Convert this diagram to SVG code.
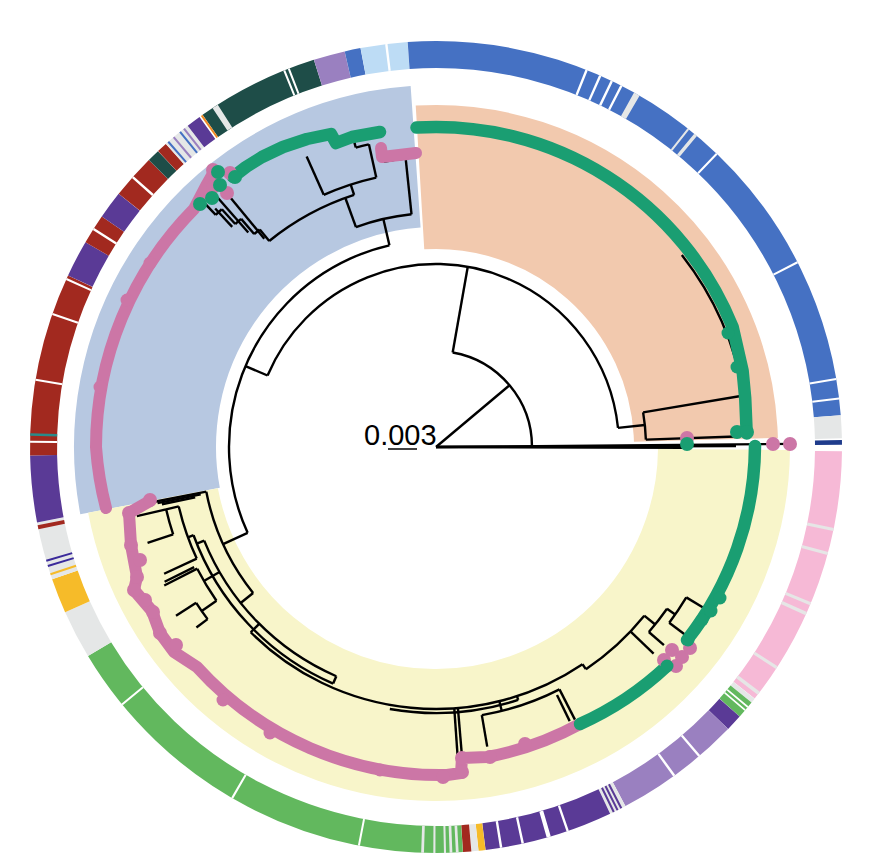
<svg xmlns="http://www.w3.org/2000/svg" width="874" height="860" viewBox="0 0 874 860">
<style>
.rg circle{fill:none;stroke-width:27}
.t line,.t circle{fill:none;stroke:#000;stroke-width:2.4}
.gb{fill:none;stroke:#1a9e72;stroke-width:12.5;stroke-linecap:round;stroke-linejoin:round}
.pb{fill:none;stroke:#cc76a6;stroke-width:12;stroke-linecap:round;stroke-linejoin:round}
.gd{fill:#1a9e72}
.pd{fill:#cc76a6}
</style>
<rect width="874" height="860" fill="#fff"/>
<g id="clades" transform="translate(436 447)">
<circle r="291" fill="none" stroke="#b7c8e1" stroke-width="142" pathLength="360" stroke-dasharray="96.7 400" transform="rotate(169.3)"/>
<circle r="270" fill="none" stroke="#f2c9ae" stroke-width="144" pathLength="360" stroke-dasharray="91.9 400" transform="rotate(266.6)"/>
<circle r="288" fill="none" stroke="#f8f5ca" stroke-width="132" pathLength="360" stroke-dasharray="168.8 400" transform="rotate(0.5)"/>
</g>
<g id="ring" class="rg" transform="translate(436 447)">
<circle r="392.5" pathLength="360" stroke="#f6b9d6" stroke-dasharray="37.7 400" transform="rotate(0.6)"/>
<circle r="392.5" pathLength="360" stroke="#e5e7e7" stroke-dasharray="0.7 400" transform="rotate(38.3)"/>
<circle r="392.5" pathLength="360" stroke="#62b85e" stroke-dasharray="2.6 400" transform="rotate(39)"/>
<circle r="392.5" pathLength="360" stroke="#5a3a96" stroke-dasharray="2.4 400" transform="rotate(41.6)"/>
<circle r="392.5" pathLength="360" stroke="#9a80c0" stroke-dasharray="18.2 400" transform="rotate(44)"/>
<circle r="392.5" pathLength="360" stroke="#e5e7e7" stroke-dasharray="2.4 400" transform="rotate(62.2)"/>
<circle r="392.5" pathLength="360" stroke="#5a3a96" stroke-dasharray="18.4 400" transform="rotate(64.6)"/>
<circle r="392.5" pathLength="360" stroke="#f6bb29" stroke-dasharray="1 400" transform="rotate(83)"/>
<circle r="392.5" pathLength="360" stroke="#e5e7e7" stroke-dasharray="1 400" transform="rotate(84)"/>
<circle r="392.5" pathLength="360" stroke="#a2291f" stroke-dasharray="1.2 400" transform="rotate(85)"/>
<circle r="392.5" pathLength="360" stroke="#62b85e" stroke-dasharray="62.8 400" transform="rotate(86.2)"/>
<circle r="392.5" pathLength="360" stroke="#e5e7e7" stroke-dasharray="7 400" transform="rotate(149)"/>
<circle r="392.5" pathLength="360" stroke="#f6bb29" stroke-dasharray="5 400" transform="rotate(156)"/>
<circle r="392.5" pathLength="360" stroke="#e5e7e7" stroke-dasharray="8.3 400" transform="rotate(161)"/>
<circle r="392.5" pathLength="360" stroke="#5a3a96" stroke-dasharray="9.5 400" transform="rotate(169.3)"/>
<circle r="392.5" pathLength="360" stroke="#a2291f" stroke-dasharray="26.2 400" transform="rotate(178.8)"/>
<circle r="392.5" pathLength="360" stroke="#5a3a96" stroke-dasharray="5.3 400" transform="rotate(205)"/>
<circle r="392.5" pathLength="360" stroke="#a2291f" stroke-dasharray="4.3 400" transform="rotate(210.3)"/>
<circle r="392.5" pathLength="360" stroke="#5a3a96" stroke-dasharray="4 400" transform="rotate(214.6)"/>
<circle r="392.5" pathLength="360" stroke="#a2291f" stroke-dasharray="6.4 400" transform="rotate(218.6)"/>
<circle r="392.5" pathLength="360" stroke="#1e4d48" stroke-dasharray="1.8 400" transform="rotate(225)"/>
<circle r="392.5" pathLength="360" stroke="#a2291f" stroke-dasharray="1.5 400" transform="rotate(226.8)"/>
<circle r="392.5" pathLength="360" stroke="#e5e7e7" stroke-dasharray="4 400" transform="rotate(228.3)"/>
<circle r="392.5" pathLength="360" stroke="#5a3a96" stroke-dasharray="2.1 400" transform="rotate(232.3)"/>
<circle r="392.5" pathLength="360" stroke="#1e4d48" stroke-dasharray="17.6 400" transform="rotate(234.9)"/>
<circle r="392.5" pathLength="360" stroke="#9a80c0" stroke-dasharray="4.5 400" transform="rotate(252.5)"/>
<circle r="392.5" pathLength="360" stroke="#4571c3" stroke-dasharray="2.3 400" transform="rotate(257)"/>
<circle r="392.5" pathLength="360" stroke="#bddcf5" stroke-dasharray="6.7 400" transform="rotate(259.3)"/>
<circle r="392.5" pathLength="360" stroke="#4571c3" stroke-dasharray="89.5 400" transform="rotate(266)"/>
<circle r="392.5" pathLength="360" stroke="#e5e7e7" stroke-dasharray="3.3 400" transform="rotate(355.5)"/>
<circle r="392.5" pathLength="360" stroke="#1f3c8c" stroke-dasharray="0.7 400" transform="rotate(359)"/>
<circle r="392.5" pathLength="360" stroke="#e6e6e6" stroke-dasharray="0.45 3.05 0.45 7.05 0.45 1.05 0.5 8.2 0.45 3.95 0.5 400" transform="rotate(11.5)"/>
<circle r="392.5" pathLength="360" stroke="#fff" stroke-dasharray="0.25 0.35 0.25 400" transform="rotate(39.7)"/>
<circle r="392.5" pathLength="360" stroke="#fff" stroke-dasharray="0.35 4.15 0.35 400" transform="rotate(49.4)"/>
<circle r="392.5" pathLength="360" stroke="#5a3a96" stroke-dasharray="0.3 0.3 0.3 0.3 0.3 400" transform="rotate(62.7)"/>
<circle r="392.5" pathLength="360" stroke="#fff" stroke-dasharray="0.35 2.35 0.6 3.3 0.35 2.75 0.35 400" transform="rotate(70.9)"/>
<circle r="392.5" pathLength="360" stroke="#e5e7e7" stroke-dasharray="0.4 0.5 0.4 0.5 0.3 1.2 0.3 1.3 0.4 400" transform="rotate(86.8)"/>
<circle r="392.5" pathLength="360" stroke="#fff" stroke-dasharray="0.3 18.9 0.3 20.2 0.3 400" transform="rotate(100.8)"/>
<circle r="392.5" pathLength="360" stroke="#f6bb29" stroke-dasharray="0.3 400" transform="rotate(161.6)"/>
<circle r="392.5" pathLength="360" stroke="#3b2a9a" stroke-dasharray="0.3 0.5 0.3 400" transform="rotate(162.8)"/>
<circle r="392.5" pathLength="360" stroke="#a2291f" stroke-dasharray="0.6 400" transform="rotate(168.3)"/>
<circle r="392.5" pathLength="360" stroke="#fff" stroke-dasharray="0.3 8.5 0.3 9.3 0.3 5 0.3 7.7 0.35 8.85 0.35 400" transform="rotate(180.6)"/>
<circle r="392.5" pathLength="360" stroke="#2a8a8a" stroke-dasharray="0.35 400" transform="rotate(181.6)"/>
<circle r="392.5" pathLength="360" stroke="#4571c3" stroke-dasharray="0.3 1.9 0.3 400" transform="rotate(228.6)"/>
<circle r="392.5" pathLength="360" stroke="#9a80c0" stroke-dasharray="0.3 1.6 0.3 400" transform="rotate(229.6)"/>
<circle r="392.5" pathLength="360" stroke="#f08a24" stroke-dasharray="0.3 400" transform="rotate(234.6)"/>
<circle r="392.5" pathLength="360" stroke="#e5e7e7" stroke-dasharray="0.9 400" transform="rotate(236.6)"/>
<circle r="392.5" pathLength="360" stroke="#fff" stroke-dasharray="0.3 0.4 0.3 400" transform="rotate(247.9)"/>
<circle r="392.5" pathLength="360" stroke="#fff" stroke-dasharray="0.35 400" transform="rotate(262.8)"/>
<circle r="392.5" pathLength="360" stroke="#fff" stroke-dasharray="0.35 1.75 0.35 1.45 0.35 1.15 0.35 400" transform="rotate(291.6)"/>
<circle r="392.5" pathLength="360" stroke="#e5e7e7" stroke-dasharray="0.9 8.2 0.3 0.9 0.5 400" transform="rotate(299.2)"/>
<circle r="392.5" pathLength="360" stroke="#fff" stroke-dasharray="0.3 18.9 0.3 17.1 0.3 2.5 0.3 400" transform="rotate(313.6)"/>
</g>
<g id="connectors" class="t" transform="translate(436 447)">
<line x2="358" transform="rotate(-0.5)"/>
<line x2="300" transform="rotate(-0.2)"/>
<line x2="250" transform="rotate(0.2)"/>
<line x2="96" transform="rotate(-40)"/>
<line x1="96" x2="183" transform="rotate(280)"/>
<line x1="183" x2="210" transform="rotate(354)"/>
<line x1="210" x2="312" transform="rotate(350.5)"/>
<line x1="210" x2="300" transform="rotate(358)"/>
<line x1="183" x2="207" transform="rotate(203)"/>
<circle r="96" pathLength="360" stroke-dasharray="80 400" transform="rotate(280)"/>
<circle r="183" pathLength="360" stroke-dasharray="151 400" transform="rotate(203)"/>
<circle r="210" pathLength="360" stroke-dasharray="7.5 400" transform="rotate(350.5)"/>
<circle r="312" pathLength="360" stroke-dasharray="28.5 400" transform="rotate(322)"/>
<circle r="207" pathLength="360" stroke-dasharray="101.5 400" transform="rotate(155.5)"/>
<line x1="207" x2="234" transform="rotate(257)"/>
<line x1="234" x2="296" transform="rotate(264)"/>
<line x1="290" x2="297" transform="rotate(259.6)"/>
<line x1="234" x2="265" transform="rotate(250)"/>
<line x1="265" x2="276" transform="rotate(252)"/>
<line x1="276" x2="318" transform="rotate(246)"/>
<line x1="276" x2="310" transform="rotate(257.5)"/>
<line x1="310" x2="318" transform="rotate(255)"/>
<line x1="265" x2="280" transform="rotate(231)"/>
<line x1="280" x2="300" transform="rotate(229.5)"/>
<line x1="300" x2="320" transform="rotate(228)"/>
<line x1="320" x2="338" transform="rotate(226.5)"/>
<line x1="270" x2="335" transform="rotate(230.5)"/>
<line x1="285" x2="340" transform="rotate(228.8)"/>
<line x1="300" x2="325" transform="rotate(227.2)"/>
<circle r="234" pathLength="360" stroke-dasharray="14 400" transform="rotate(250)"/>
<circle r="290" pathLength="360" stroke-dasharray="4.4 400" transform="rotate(259.6)"/>
<circle r="265" pathLength="360" stroke-dasharray="21 400" transform="rotate(231)"/>
<circle r="276" pathLength="360" stroke-dasharray="11.5 400" transform="rotate(246)"/>
<circle r="310" pathLength="360" stroke-dasharray="2.5 400" transform="rotate(255)"/>
<circle r="280" pathLength="360" stroke-dasharray="1.5 400" transform="rotate(229.5)"/>
<circle r="300" pathLength="360" stroke-dasharray="1.5 400" transform="rotate(228)"/>
<circle r="320" pathLength="360" stroke-dasharray="1.5 400" transform="rotate(226.5)"/>
<line x1="207" x2="234" transform="rotate(155.5)"/>
<line x1="234" x2="288" transform="rotate(169)"/>
<line x1="240" x2="284" transform="rotate(168.6)"/>
<line x1="246" x2="280" transform="rotate(168.2)"/>
<line x1="234" x2="250" transform="rotate(141.4)"/>
<line x1="250" x2="258" transform="rotate(158)"/>
<line x1="250" x2="258" transform="rotate(113.5)"/>
<line x1="258" x2="264" transform="rotate(160)"/>
<line x1="264" x2="277" transform="rotate(167)"/>
<line x1="277" x2="304" transform="rotate(161.6)"/>
<line x1="277" x2="307" transform="rotate(167)"/>
<line x1="264" x2="300" transform="rotate(155)"/>
<line x1="250" x2="268" transform="rotate(150)"/>
<line x1="268" x2="305" transform="rotate(153)"/>
<line x1="270" x2="303" transform="rotate(153.6)"/>
<line x1="268" x2="286" transform="rotate(145)"/>
<line x1="286" x2="310" transform="rotate(147)"/>
<line x1="286" x2="300" transform="rotate(143)"/>
<line x1="250" x2="262" transform="rotate(135)"/>
<line x1="262" x2="266" transform="rotate(72)"/>
<line x1="262" x2="311" transform="rotate(86)"/>
<line x1="262" x2="311" transform="rotate(85.2)"/>
<line x1="262" x2="272" transform="rotate(76)"/>
<line x1="272" x2="304" transform="rotate(80.3)"/>
<line x1="272" x2="306" transform="rotate(63)"/>
<line x1="276" x2="305" transform="rotate(64)"/>
<line x1="262" x2="268" transform="rotate(56)"/>
<line x1="268" x2="300" transform="rotate(43.5)"/>
<line x1="268" x2="282" transform="rotate(39)"/>
<line x1="282" x2="302" transform="rotate(41)"/>
<line x1="282" x2="292" transform="rotate(35)"/>
<line x1="292" x2="312" transform="rotate(37)"/>
<line x1="292" x2="312" transform="rotate(31)"/>
<circle r="234" pathLength="360" stroke-dasharray="27.6 400" transform="rotate(141.4)"/>
<circle r="250" pathLength="360" stroke-dasharray="44.5 400" transform="rotate(113.5)"/>
<circle r="258" pathLength="360" stroke-dasharray="46.5 400" transform="rotate(113.5)"/>
<circle r="264" pathLength="360" stroke-dasharray="12 400" transform="rotate(155)"/>
<circle r="277" pathLength="360" stroke-dasharray="5.4 400" transform="rotate(161.6)"/>
<circle r="268" pathLength="360" stroke-dasharray="8 400" transform="rotate(145)"/>
<circle r="286" pathLength="360" stroke-dasharray="4 400" transform="rotate(143)"/>
<circle r="262" pathLength="360" stroke-dasharray="79 400" transform="rotate(56)"/>
<circle r="266" pathLength="360" stroke-dasharray="28 400" transform="rotate(72)"/>
<circle r="272" pathLength="360" stroke-dasharray="17.3 400" transform="rotate(63)"/>
<circle r="268" pathLength="360" stroke-dasharray="17 400" transform="rotate(39)"/>
<circle r="282" pathLength="360" stroke-dasharray="6 400" transform="rotate(35)"/>
<circle r="292" pathLength="360" stroke-dasharray="6 400" transform="rotate(31)"/>
</g>
<g id="tips-peach">
<path class="gb" d="M416.5 127.6 A320 320 0 0 1 732.7 327.1 L742.6 370.6 L745.2 398 L746.7 433.4"/>
<circle class="gd" cx="728" cy="333" r="6.5"/>
<circle class="gd" cx="737" cy="367" r="6.5"/>
<circle class="gd" cx="737" cy="432" r="7"/>
<circle class="gd" cx="747" cy="432" r="7"/>
</g>
<g id="tips-blue">
<path class="pb" d="M214 172 L206 186 L194 209 A340 340 0 0 0 96 447 A336 336 0 0 0 106 508"/>
<circle class="pd" cx="150" cy="263" r="6.5"/>
<circle class="pd" cx="127" cy="300" r="6.5"/>
<circle class="pd" cx="100" cy="387" r="6.5"/>
<path class="pb" d="M381 148 L382 157 L416 153"/>
<path class="gb" d="M380 132 L352 137 L336 143 L331 134 L307 139 L283 147 L262 157 L246 167 L233 177"/>
<circle class="pd" cx="213" cy="170" r="7"/>
<circle class="pd" cx="230" cy="173" r="7"/>
<circle class="pd" cx="213" cy="187" r="7"/>
<circle class="pd" cx="227" cy="193" r="7"/>
<circle class="gd" cx="218" cy="172" r="7"/>
<circle class="gd" cx="220" cy="185" r="7"/>
<circle class="gd" cx="212" cy="198" r="7"/>
<circle class="gd" cx="200" cy="204" r="7"/>
<circle class="gd" cx="235" cy="177" r="7"/>
</g>
<g id="tips-yellow">
<path class="pb" d="M150 501 L129 513 L131 545 L137 577 L134 590 L152 611 L160 633 L174 652 L197 667 A327 327 0 0 0 447 775 L461 773 L462 758 L487 757 A312 312 0 0 0 580 724"/>
<circle class="pd" cx="150" cy="500" r="7"/>
<circle class="pd" cx="129" cy="513" r="7"/>
<circle class="pd" cx="131" cy="545" r="7"/>
<circle class="pd" cx="140" cy="560" r="7"/>
<circle class="pd" cx="137" cy="577" r="7"/>
<circle class="pd" cx="134" cy="590" r="7"/>
<circle class="pd" cx="145" cy="600" r="7"/>
<circle class="pd" cx="153" cy="612" r="7"/>
<circle class="pd" cx="160" cy="633" r="7"/>
<circle class="pd" cx="176" cy="645" r="7"/>
<circle class="pd" cx="223" cy="700" r="6.5"/>
<circle class="pd" cx="270" cy="733" r="6.5"/>
<circle class="pd" cx="380" cy="770" r="6.5"/>
<circle class="pd" cx="443" cy="777" r="7"/>
<circle class="pd" cx="462" cy="772" r="7"/>
<circle class="pd" cx="462" cy="758" r="7"/>
<circle class="pd" cx="490" cy="757" r="7"/>
<circle class="pd" cx="525" cy="744" r="7"/>
<path class="gb" d="M580 724 A316 316 0 0 0 667 666"/>
<path class="gb" d="M687 640 A317 317 0 0 0 755 446"/>
<circle class="pd" cx="664" cy="660" r="7"/>
<circle class="pd" cx="672" cy="650" r="7"/>
<circle class="pd" cx="682" cy="657" r="7"/>
<circle class="pd" cx="690" cy="648" r="7"/>
<circle class="pd" cx="676" cy="666" r="7"/>
<circle class="gd" cx="667" cy="666" r="6.5"/>
<circle class="gd" cx="688" cy="640" r="6.5"/>
<circle class="gd" cx="702" cy="620" r="6.5"/>
<circle class="gd" cx="711" cy="611" r="6.5"/>
<circle class="gd" cx="720" cy="598" r="6.5"/>
</g>
<g id="tips-root">
<circle class="pd" cx="687" cy="438" r="7"/>
<circle class="gd" cx="687" cy="444" r="7"/>
<circle class="pd" cx="773" cy="444" r="7"/>
<circle class="pd" cx="790" cy="444" r="7"/>
</g>
<g id="scale">
<text x="364" y="445" font-family="Liberation Sans, Arial, sans-serif" font-size="29" fill="#000">0.003</text>
<line x1="388" y1="449" x2="417" y2="449" stroke="#000" stroke-width="1.5"/>
</g>
</svg>
